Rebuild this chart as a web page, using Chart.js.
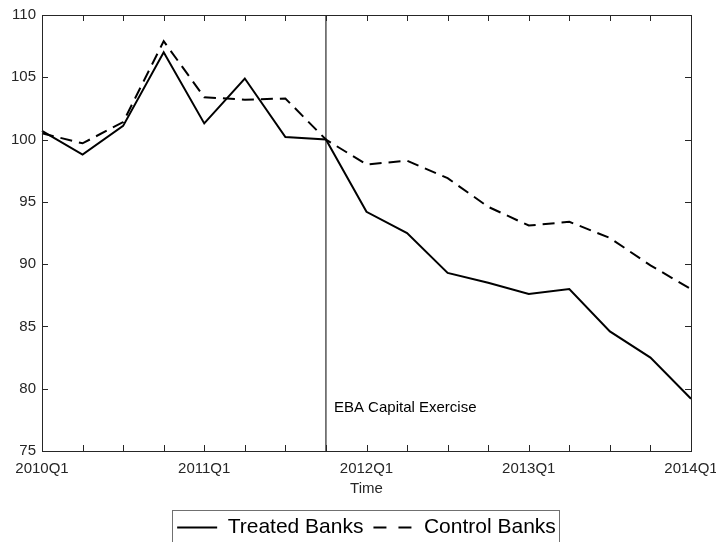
<!DOCTYPE html>
<html>
<head>
    <title>Treated vs Control Banks</title>
    <meta charset="UTF-8">
    <script src="https://cdnjs.cloudflare.com/ajax/libs/Chart.js/4.4.1/chart.umd.min.js"></script>
    <style>
        body { margin: 0; background: #fff; }
        canvas { display: block; }
    </style>
</head>
<body>
    <canvas id="chart" width="716" height="542"></canvas>

    <script>
        // quarters on the x axis, only Q1 gets a label
        const quarters = ['2010Q1', '2010Q2', '2010Q3', '2010Q4',
                          '2011Q1', '2011Q2', '2011Q3', '2011Q4',
                          '2012Q1', '2012Q2', '2012Q3', '2012Q4',
                          '2013Q1', '2013Q2', '2013Q3', '2013Q4', '2014Q1'];
        const treated = [100.7, 98.8, 101.1, 107.0, 101.3, 104.9, 100.2, 100.0,
                         94.2, 92.5, 89.3, 88.5, 87.6, 88.0, 84.6, 82.5, 79.2];
        const control = [100.5, 99.7, 101.4, 107.9, 103.4, 103.2, 103.3, 100.0,
                         98.0, 98.3, 96.9, 94.6, 93.1, 93.4, 92.1, 89.9, 88.0];
        const yTicks = [75, 80, 85, 90, 95, 100, 105, 110];
        const eventQuarter = '2011Q4';
        const eventLabel = 'EBA Capital Exercise';
        const eventLabelY = 78.5;

        const axisColor = '#262626';
        const fontFamily = '"Liberation Sans", Arial, Helvetica, sans-serif';

        // MATLAB-style box with inward tick marks on all four sides
        const boxTicks = {
            id: 'boxTicks',
            afterDraw(chart) {
                const ctx = chart.ctx;
                const a = chart.chartArea;
                const xs = chart.scales.x, ys = chart.scales.y;
                const len = 6;
                ctx.save();
                ctx.strokeStyle = axisColor;
                ctx.lineWidth = 1;
                ctx.beginPath();
                xs.ticks.forEach((t, i) => {
                    const px = Math.round(xs.getPixelForTick(i)) + 0.5;
                    ctx.moveTo(px, a.bottom); ctx.lineTo(px, a.bottom - len);
                    ctx.moveTo(px, a.top); ctx.lineTo(px, a.top + len);
                });
                ys.ticks.forEach((t, i) => {
                    const py = Math.round(ys.getPixelForTick(i)) + 0.5;
                    ctx.moveTo(a.left, py); ctx.lineTo(a.left + len, py);
                    ctx.moveTo(a.right, py); ctx.lineTo(a.right - len, py);
                });
                ctx.stroke();
                ctx.strokeRect(Math.round(a.left) + 0.5, Math.round(a.top) + 0.5,
                               Math.round(a.right - a.left), Math.round(a.bottom - a.top));

                // event label next to the vertical line
                ctx.fillStyle = '#000';
                ctx.font = '15px ' + fontFamily;
                ctx.textBaseline = 'middle';
                ctx.textAlign = 'left';
                ctx.fillText(eventLabel, xs.getPixelForValue(quarters.indexOf(eventQuarter)) + 8,
                             ys.getPixelForValue(eventLabelY));

                // frame around the legend
                const lg = chart.legend;
                if (lg && lg.legendHitBoxes.length) {
                    const hb = lg.legendHitBoxes;
                    const left = Math.min(...hb.map(h => h.left)) - 5;
                    const right = Math.max(...hb.map(h => h.left + h.width)) + 3;
                    ctx.strokeStyle = '#707070';
                    ctx.strokeRect(Math.round(left) + 0.5, Math.round(lg.top) + 3.5,
                                   Math.round(right - left), 60);
                }
                ctx.restore();
            }
        };

        new Chart(document.getElementById('chart'), {
            type: 'line',
            data: {
                labels: quarters,
                datasets: [{
                    label: 'Treated Banks',
                    data: treated,
                    borderColor: '#000',
                    borderWidth: 2,
                    pointRadius: 0,
                    tension: 0
                }, {
                    label: 'Control Banks',
                    data: control,
                    borderColor: '#000',
                    borderWidth: 2,
                    borderDash: [12, 7],
                    pointRadius: 0,
                    tension: 0
                }, {
                    label: 'event',
                    data: [{ x: eventQuarter, y: yTicks[0] }, { x: eventQuarter, y: yTicks[yTicks.length - 1] }],
                    borderColor: '#000',
                    borderWidth: 1,
                    pointRadius: 0
                }]
            },
            options: {
                responsive: false,
                animation: false,
                layout: { padding: { left: 0, top: 15, right: 25, bottom: -6 } },
                plugins: {
                    tooltip: { enabled: false },
                    legend: {
                        position: 'bottom',
                        fullSize: false,
                        labels: {
                            filter: item => item.text !== 'event',
                            generateLabels: chart => {
                                const items = Chart.defaults.plugins.legend.labels.generateLabels(chart);
                                items.forEach(it => {
                                    // legend sample shows two long dashes
                                    it.lineDash = chart.data.datasets[it.datasetIndex].borderDash ? [13, 12] : [];
                                    it.lineWidth = 2;
                                });
                                return items;
                            },
                            usePointStyle: true,
                            pointStyle: 'line',
                            pointStyleWidth: 40,
                            padding: 10,
                            color: '#000',
                            font: { family: fontFamily, size: 21 }
                        }
                    }
                },
                scales: {
                    x: {
                        type: 'category',
                        offset: false,
                        grid: { display: false, drawTicks: false },
                        border: { display: false },
                        ticks: {
                            autoSkip: false,
                            maxRotation: 0,
                            padding: 9,
                            color: axisColor,
                            font: { family: fontFamily, size: 15 },
                            callback: function (v, i) {
                                const q = quarters[i];
                                return q.endsWith('Q1') ? q : '';
                            }
                        },
                        title: {
                            display: true,
                            text: 'Time',
                            color: axisColor,
                            font: { family: fontFamily, size: 15 },
                            padding: { top: 0, bottom: 9 }
                        },
                        afterFit: s => {
                            s.height = 56;
                            s.paddingLeft = 0;
                            s.paddingRight = 0;
                        }
                    },
                    y: {
                        min: yTicks[0],
                        max: yTicks[yTicks.length - 1],
                        grid: { display: false, drawTicks: false },
                        border: { display: false },
                        afterBuildTicks: s => { s.ticks = yTicks.map(v => ({ value: v })); },
                        ticks: {
                            padding: 6,
                            color: axisColor,
                            font: { family: fontFamily, size: 15 }
                        },
                        afterFit: s => { s.width = 42; }
                    }
                }
            },
            plugins: [boxTicks]
        });
    </script>
</body>
</html>
